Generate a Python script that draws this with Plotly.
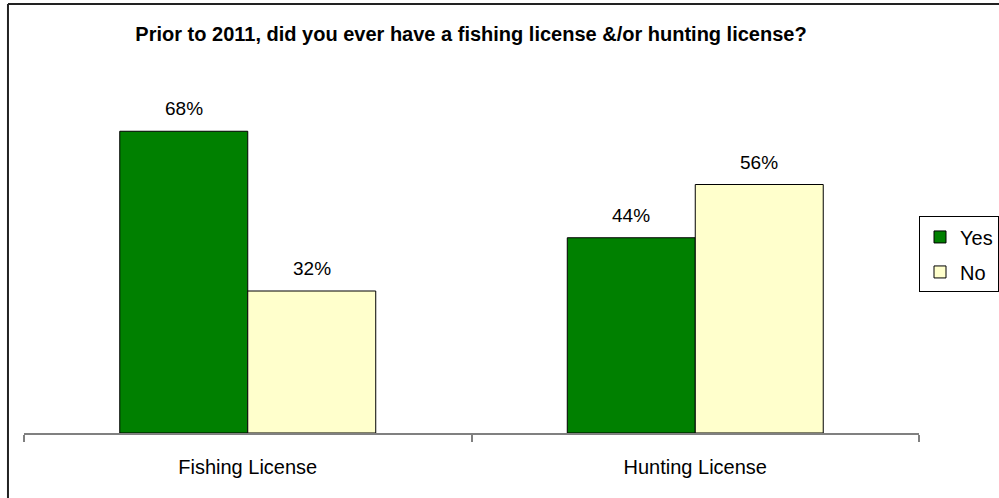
import plotly.graph_objects as go

categories = ["Fishing License", "Hunting License"]
yes_values = [68, 44]
no_values = [32, 56]
series_names = ["Yes", "No"]
series_colors = ["#008000", "#FFFFCC"]
title_text = "Prior to 2011, did you ever have a fishing license &/or hunting license?"

FONT = "Liberation Sans, Arial, sans-serif"

fig = go.Figure()
for name, vals, color in zip(series_names, [yes_values, no_values], series_colors):
    fig.add_trace(go.Bar(
        name=name, x=categories, y=vals,
        marker=dict(color=color, line=dict(color="#000000", width=1)),
        legendgroup=name,
    ))

# value labels above each bar
bar_offsets = [-64, 64]
for vals, dx in zip([yes_values, no_values], bar_offsets):
    for cat, v in zip(categories, vals):
        fig.add_annotation(
            x=cat, y=v, xref="x", yref="y", text=f"{v}%", showarrow=False,
            xshift=dx, yshift=10, yanchor="bottom",
            font=dict(family=FONT, size=19, color="#000000"),
        )

# outer chart frame (left and top edges)
fig.add_shape(type="line", xref="paper", yref="paper",
              x0=-0.0179, x1=-0.0179, y0=-0.3, y1=1.2085,
              line=dict(color="#222222", width=2))
fig.add_shape(type="line", xref="paper", yref="paper",
              x0=-0.0179, x1=1.2, y0=1.2085, y1=1.2085,
              line=dict(color="#222222", width=2))

fig.update_layout(
    width=999, height=498,
    margin=dict(l=24, r=80, t=78, b=65, autoexpand=False),
    paper_bgcolor="white", plot_bgcolor="white",
    barmode="group", bargap=0.428, bargroupgap=0,
    title=dict(text=f"<b>{title_text}</b>", x=0.4715, xanchor="center",
               y=0.932, yanchor="middle",
               font=dict(family=FONT, size=20, color="#000000")),
    showlegend=True,
    legend=dict(x=1.0, y=0.61, xanchor="left", yanchor="top",
                bordercolor="#000000", borderwidth=1, bgcolor="white",
                font=dict(family=FONT, size=20, color="#000000"),
                traceorder="grouped", tracegroupgap=6,
                itemwidth=30),
    xaxis=dict(type="category", range=[-0.5, 1.5], showline=True,
               linecolor="#808080", linewidth=2, ticks="outside",
               tickson="boundaries", ticklen=7, tickcolor="#808080",
               tickwidth=2, showgrid=False, ticklabelstandoff=15,
               tickfont=dict(family=FONT, size=20, color="#000000")),
    yaxis=dict(range=[0, 80], visible=False, showgrid=False),
)

fig.write_html("out.html")
